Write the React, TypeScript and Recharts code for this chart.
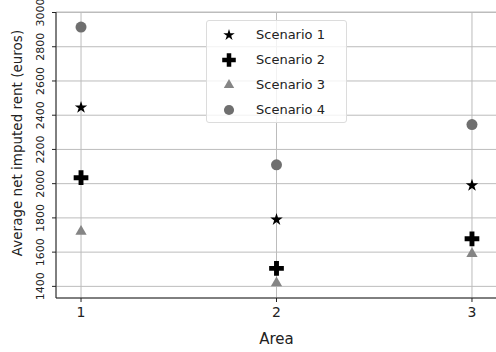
import {
  ScatterChart,
  Scatter,
  XAxis,
  YAxis,
  CartesianGrid,
  Symbols,
} from "recharts";

const areas = [1, 2, 3];
const scenario1 = [2445, 1790, 1990];
const scenario2 = [2035, 1505, 1678];
const scenario3 = [1720, 1420, 1590];
const scenario4 = [2915, 2110, 2345];
const yTicks = [1400, 1600, 1800, 2000, 2200, 2400, 2600, 2800, 3000];

const toPoints = (vals: number[]) => areas.map((a, i) => ({ area: a, value: vals[i] }));

const series = [
  { name: "Scenario 1", data: toPoints(scenario1), type: "star", size: 48, color: "#000000" },
  { name: "Scenario 2", data: toPoints(scenario2), type: "cross", size: 120, color: "#000000" },
  { name: "Scenario 3", data: toPoints(scenario3), type: "triangle", size: 55, color: "#858585" },
  { name: "Scenario 4", data: toPoints(scenario4), type: "circle", size: 95, color: "#6f6f6f" },
];

const FONT = "'DejaVu Sans', sans-serif";

const YTick = (props: any) => {
  const { x, y, payload } = props;
  return (
    <text
      x={x - 6}
      y={y}
      transform={`rotate(-90, ${x - 6}, ${y})`}
      textAnchor="middle"
      fontSize={11}
      fontFamily={FONT}
      fill="#222"
    >
      {payload.value}
    </text>
  );
};

const YLabel = (props: any) => {
  const { viewBox } = props;
  const cx = 17;
  const cy = viewBox.y + viewBox.height / 2 - 12;
  return (
    <text
      x={cx}
      y={cy}
      transform={`rotate(-90, ${cx}, ${cy})`}
      textAnchor="middle"
      dominantBaseline="central"
      fontSize={13.5}
      fontFamily={FONT}
      fill="#222"
    >
      Average net imputed rent (euros)
    </text>
  );
};

// legend drawn as an overlay so it doesn't shrink the plot area
const LegendBox = () => (
  <div
    style={{
      position: "absolute",
      left: 206,
      top: 20,
      width: 141,
      height: 103,
      border: "1px solid #dcdcdc",
      borderRadius: 3,
      background: "rgba(255,255,255,0.8)",
      fontFamily: FONT,
      fontSize: 13,
      color: "#222",
      boxSizing: "border-box",
      paddingTop: 1,
    }}
  >
    {series.map((s) => (
      <div key={s.name} style={{ display: "flex", alignItems: "center", height: 25 }}>
        <svg width={44} height={20}>
          <Symbols cx={22} cy={10} type={s.type as any} size={s.size * 0.85} fill={s.color} />
        </svg>
        <span style={{ marginLeft: 5 }}>{s.name}</span>
      </div>
    ))}
  </div>
);

export default function App() {
  return (
    <div
      style={{
        position: "absolute",
        left: 0,
        top: 0,
        width: 496,
        height: 352,
        overflow: "hidden",
        background: "#fff",
      }}
    >
      <ScatterChart
        width={500}
        height={352}
        margin={{ top: 12, right: 3, bottom: 0, left: 0 }}
      >
        <CartesianGrid stroke="#bcbcbc" strokeWidth={1} />
        <XAxis
          dataKey="area"
          type="number"
          domain={[0.872, 3.128]}
          ticks={areas}
          height={54}
          tickSize={4}
          tickMargin={5}
          stroke="#222"
          tick={{ fontSize: 14, fontFamily: FONT, fill: "#222" }}
          label={{
            value: "Area",
            position: "insideBottom",
            offset: 8,
            fontSize: 15,
            fontFamily: FONT,
            fill: "#222",
          }}
        />
        <XAxis
          xAxisId="top"
          orientation="top"
          type="number"
          domain={[0.872, 3.128]}
          height={0}
          tick={false}
          tickLine={false}
          stroke="#222"
        />
        <YAxis
          dataKey="value"
          type="number"
          domain={[1332, 3003]}
          ticks={yTicks}
          width={56}
          tickSize={4}
          stroke="#222"
          tick={<YTick />}
          label={<YLabel />}
        />
        {series.map((s) => (
          <Scatter
            key={s.name}
            name={s.name}
            data={s.data}
            fill={s.color}
            isAnimationActive={false}
            shape={(p: any) => (
              <Symbols cx={p.cx} cy={p.cy} type={s.type as any} size={s.size} fill={s.color} />
            )}
          />
        ))}
      </ScatterChart>
      <LegendBox />
    </div>
  );
}
